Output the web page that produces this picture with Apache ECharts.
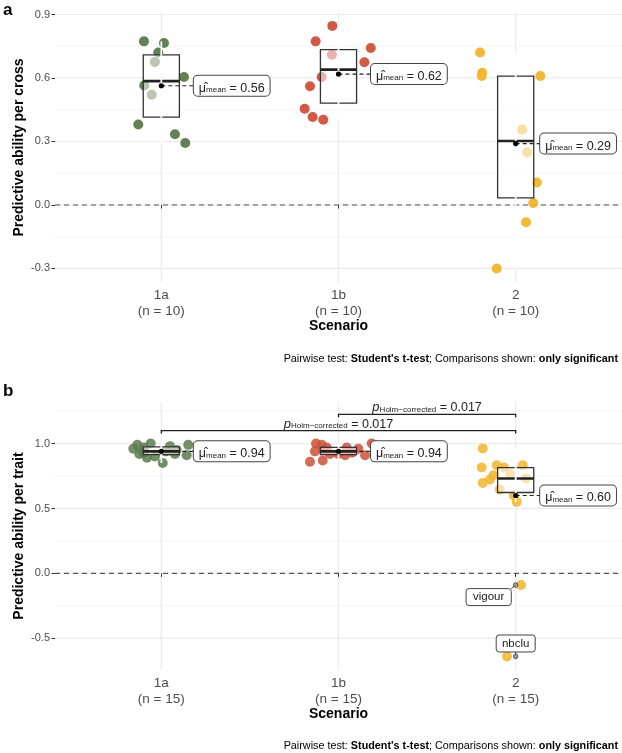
<!DOCTYPE html>
<html><head><meta charset="utf-8">
<script src="https://cdn.jsdelivr.net/npm/echarts@6/dist/echarts.min.js"></script>
<style>html,body{margin:0;padding:0;background:#fff}#c{width:622px;height:753px}</style>
</head><body><div id="c"></div>
<script>
// ---------------- DATA ----------------
const categories = ['1a', '1b', '2'];
const countsA = [10, 10, 10];
const countsB = [15, 15, 15];
const yTicksA = [-0.3, 0, 0.3, 0.6, 0.9];
const yMinorA = [-0.15, 0.15, 0.45, 0.75];
const yTicksB = [-0.5, 0, 0.5, 1.0];
const yMinorB = [-0.25, 0.25, 0.75, 1.25];
const xTicks = [1, 2, 3];

// Panel a: predictive ability per cross (value, jittered x position in category units)
const crossVals_1a = [0.773, 0.765, 0.720, 0.676, 0.605, 0.565, 0.521, 0.380, 0.334, 0.293];
const crossJit_1a  = [0.902, 1.015, 0.983, 0.964, 1.128, 0.904, 0.946, 0.870, 1.077, 1.135];
const crossVals_1b = [0.846, 0.773, 0.742, 0.710, 0.674, 0.605, 0.561, 0.455, 0.416, 0.403];
const crossJit_1b  = [1.965, 1.871, 2.182, 1.963, 2.146, 1.905, 1.839, 1.809, 1.854, 1.914];
const crossVals_2  = [0.720, 0.625, 0.609, 0.609, 0.356, 0.248, 0.106, 0.009, -0.082, -0.300];
const crossJit_2   = [2.799, 2.811, 2.808, 3.139, 3.037, 3.065, 3.120, 3.099, 3.058, 2.893];

// Panel b: predictive ability per trait
const traitVals_1a = [0.99, 1.00, 0.98, 0.99, 0.96, 0.95, 0.97, 0.93, 0.94, 0.92, 0.91, 0.92, 0.90, 0.89, 0.85];
const traitJit_1a  = [0.865, 0.940, 1.049, 1.152, 0.842, 1.087, 0.902, 0.898, 1.027, 0.876, 1.143, 1.077, 0.964, 0.919, 1.008];
const traitVals_1b = [1.00, 0.99, 0.97, 0.87, 0.86, 0.92, 0.97, 0.96, 0.91, 1.00, 0.95, 0.94, 0.93, 0.92, 0.91];
const traitJit_1b  = [1.873, 1.905, 1.933, 1.911, 1.839, 1.999, 2.046, 2.112, 2.150, 2.187, 1.914, 1.867, 2.076, 1.952, 2.037];
const traitVals_2  = [0.962, 0.815, 0.833, 0.815, 0.833, 0.756, 0.723, 0.697, 0.731, 0.551, -0.09, -0.64, 0.60, 0.646, 0.768];
const traitJit_2   = [2.814, 2.808, 2.893, 2.934, 3.040, 2.874, 2.855, 2.814, 3.058, 3.006, 3.030, 2.951, 2.990, 2.911, 2.968];
const outlierNames_2 = ['vigour', 'nbclu'];

// Significance comparisons (panel b)
const sigFrom = [2, 1];
const sigTo = [3, 3];
const sigLevel = [1.225, 1.10];
const sigP = ['0.017', '0.017'];

// ---------------- STYLE ----------------
const FONT = '"Liberation Sans", Arial, Helvetica, sans-serif';
const GRAY = '#4d4d4d';
const COLORS = ['#5c7a4c', '#cd513c', '#f1b52e'];
const BOX_HALF = 0.102;
const meanLabelGaps = [32, 32, 24];
const outlierLabelOffsets = [[-27, 12], [0, -13]];

function quantile(s, p) {
  const h = (s.length - 1) * p, lo = Math.floor(h);
  const hiV = s[Math.min(lo + 1, s.length - 1)];
  return s[lo] + (h - lo) * (hiV - s[lo]);
}
function stats(vals) {
  const s = vals.slice().sort((a, b) => a - b);
  const q1 = quantile(s, 0.25), med = quantile(s, 0.5), q3 = quantile(s, 0.75);
  const iqr = q3 - q1, lf = q1 - 1.5 * iqr, uf = q3 + 1.5 * iqr;
  const inside = s.filter(v => v >= lf && v <= uf);
  return {
    q1, med, q3, lo: inside[0], hi: inside[inside.length - 1],
    mean: vals.reduce((a, b) => a + b, 0) / vals.length,
    outliers: vals.filter(v => v < lf || v > uf)
  };
}

const panelA = [[crossVals_1a, crossJit_1a], [crossVals_1b, crossJit_1b], [crossVals_2, crossJit_2]];
const panelB = [[traitVals_1a, traitJit_1a], [traitVals_1b, traitJit_1b], [traitVals_2, traitJit_2]];

function gridSeries(idx, minor, major) {
  const data = [];
  minor.forEach(v => data.push([0, v]));
  major.forEach(v => data.push([1, v]));
  xTicks.forEach(c => data.push([2, c]));
  data.push([3, 0]);
  return {
    type: 'custom', xAxisIndex: idx, yAxisIndex: idx, z: 0, silent: true,
    encode: { x: -1, y: -1 },
    data,
    renderItem(params, api) {
      const cs = params.coordSys;
      const kind = api.value(0), v = api.value(1);
      if (kind === 2) {
        const x = api.coord([v, 0])[0];
        return { type: 'line', shape: { x1: x, y1: cs.y, x2: x, y2: cs.y + cs.height }, style: { stroke: '#ebebeb', lineWidth: 1.2 } };
      }
      const y = api.coord([1, v])[1];
      if (kind === 3) {
        return { type: 'line', z2: 5, shape: { x1: cs.x, y1: y, x2: cs.x + cs.width, y2: y }, style: { stroke: '#555', lineWidth: 1.1, lineDash: [5, 4] } };
      }
      return { type: 'line', shape: { x1: cs.x, y1: y, x2: cs.x + cs.width, y2: y },
        style: { stroke: kind === 1 ? '#ebebeb' : '#f4f4f4', lineWidth: kind === 1 ? 1.2 : 0.9 } };
    }
  };
}

function boxSeries(idx, groups) {
  return {
    type: 'custom', xAxisIndex: idx, yAxisIndex: idx, z: 3, silent: true,
    data: groups.map((g, i) => { const s = stats(g[0]); return [i + 1, s.q1, s.med, s.q3, s.lo, s.hi, s.mean, i]; }),
    renderItem(params, api) {
      const c = api.value(0);
      const P = k => api.coord([c, api.value(k)]);
      const pQ1 = P(1), pMed = P(2), pQ3 = P(3), pLo = P(4), pHi = P(5), pMean = P(6);
      const hw = api.size([BOX_HALF, 0])[0];
      const gap = meanLabelGaps[api.value(7)];
      return { type: 'group', children: [
        { type: 'rect', shape: { x: pQ1[0] - hw, y: pQ3[1], width: 2 * hw, height: pQ1[1] - pQ3[1] },
          style: { fill: 'rgba(255,255,255,0.55)', stroke: '#333', lineWidth: 1.3 } },
        { type: 'line', shape: { x1: pMed[0] - hw, y1: pMed[1], x2: pMed[0] + hw, y2: pMed[1] }, style: { stroke: '#222', lineWidth: 2.6 } },
        { type: 'line', shape: { x1: pHi[0], y1: pHi[1], x2: pLo[0], y2: pLo[1] }, style: { stroke: '#fff', lineWidth: 1.8 } },
        { type: 'line', shape: { x1: pMean[0], y1: pMean[1], x2: pMean[0] + gap, y2: pMean[1] }, style: { stroke: '#222', lineWidth: 1.2, lineDash: [4, 3] } },
        { type: 'circle', shape: { cx: pMean[0], cy: pMean[1], r: 2.6 }, style: { fill: '#000' } }
      ]};
    }
  };
}

const meanRich = {
  mu: { fontSize: 12.5, fontFamily: FONT, color: '#222', lineHeight: 12, verticalAlign: 'top' },
  sub: { fontSize: 8, fontFamily: FONT, color: '#222', lineHeight: 8, padding: [8, 0, 0, 0], verticalAlign: 'bottom' },
  t: { fontSize: 12.5, fontFamily: FONT, color: '#222', lineHeight: 12, verticalAlign: 'top' }
};
function meanLabelSeries(idx, groups) {
  return {
    type: 'scatter', xAxisIndex: idx, yAxisIndex: idx, z: 4, silent: true,
    symbolSize: 1, itemStyle: { color: 'rgba(0,0,0,0)' },
    data: groups.map((g, i) => ({ value: [i + 1, stats(g[0]).mean], label: { distance: meanLabelGaps[i] } })),
    label: {
      show: true, position: 'right', opacity: 1,
      formatter: p => '{mu|\u03BC\u0302}{sub|mean}{t| = ' + p.value[1].toFixed(2) + '}',
      backgroundColor: '#fff', borderColor: '#444', borderWidth: 1, borderRadius: 4,
      padding: [6, 5, 2, 5], rich: meanRich
    }
  };
}

function pointSeries(idx, groups, opacity) {
  return groups.map((g, i) => ({
    type: 'scatter', xAxisIndex: idx, yAxisIndex: idx, z: 2, silent: true,
    symbolSize: 10, itemStyle: { color: COLORS[i], opacity },
    data: g[1].map((x, k) => [x, g[0][k]])
  }));
}

function xAxisDef(idx, counts) {
  return {
    type: 'value', gridIndex: idx, min: 0.4, max: 3.6,
    axisLine: { show: false }, splitLine: { show: false },
    axisTick: { show: true, customValues: xTicks, length: 3.5, lineStyle: { color: '#333', width: 1 } },
    axisLabel: {
      customValues: xTicks, margin: 5,
      formatter: v => '{c|' + categories[v - 1] + '}\n{c|(n = ' + counts[v - 1] + ')}',
      rich: { c: { fontSize: 13.5, fontFamily: FONT, color: GRAY, lineHeight: 16 } }
    },
    name: 'Scenario', nameLocation: 'middle', nameGap: 37, nameMoveOverlap: false,
    nameTextStyle: { fontSize: 14, fontWeight: 'bold', color: '#000', fontFamily: FONT }
  };
}
function yAxisDef(idx, min, max, ticks, name) {
  return {
    type: 'value', gridIndex: idx, min, max,
    axisLine: { show: false }, splitLine: { show: false },
    axisTick: { show: true, customValues: ticks, length: 3.5, lineStyle: { color: '#333', width: 1 } },
    axisLabel: { customValues: ticks, margin: 5, color: GRAY, fontSize: 11, fontFamily: FONT, formatter: v => v.toFixed(1) },
    name, nameLocation: 'middle', nameGap: 29, nameRotate: 90, nameMoveOverlap: false,
    nameTextStyle: { fontSize: 14, fontWeight: 'bold', color: '#000', fontFamily: FONT }
  };
}

const sigSeries = {
  type: 'custom', xAxisIndex: 1, yAxisIndex: 1, z: 4, silent: true,
  data: sigFrom.map((f, i) => [f, sigTo[i], sigLevel[i], i]),
  renderItem(params, api) {
    const p1 = api.coord([api.value(0), api.value(2)]);
    const p2 = api.coord([api.value(1), api.value(2)]);
    const i = api.value(3);
    return { type: 'group', children: [
      { type: 'polyline', shape: { points: [[p1[0], p1[1] + 3], [p1[0], p1[1]], [p2[0], p2[1]], [p2[0], p2[1] + 3]] },
        style: { stroke: '#222', lineWidth: 1.3, fill: null } },
      { type: 'text', x: (p1[0] + p2[0]) / 2, y: p1[1] - 1,
        style: {
          text: '{p|p}{s|Holm\u2212corrected}{t| = ' + sigP[i] + '}',
          align: 'center', verticalAlign: 'bottom',
          rich: {
            p: { fontSize: 13, fontStyle: 'italic', fontFamily: FONT, fill: '#222', lineHeight: 12, verticalAlign: 'top' },
            s: { fontSize: 8, fontFamily: FONT, fill: '#222', lineHeight: 8, padding: [8, 0, 0, 0], verticalAlign: 'bottom' },
            t: { fontSize: 12.5, fontFamily: FONT, fill: '#222', lineHeight: 12, verticalAlign: 'top' }
          }
        } }
    ]};
  }
};

const outStats = stats(traitVals_2);
const outlierSeries = {
  type: 'custom', xAxisIndex: 1, yAxisIndex: 1, z: 5, silent: true,
  data: outStats.outliers.map((v, i) => [3, v, i]),
  renderItem(params, api) {
    const p = api.coord([api.value(0), api.value(1)]);
    const i = api.value(2);
    const off = outlierLabelOffsets[i];
    const name = outlierNames_2[i];
    const w = name.length * 6.2 + 8, h = 17;
    const cx = p[0] + off[0], cy = p[1] + off[1];
    const ex = Math.max(cx - w / 2, Math.min(cx + w / 2, p[0]));
    const ey = Math.max(cy - h / 2, Math.min(cy + h / 2, p[1]));
    return { type: 'group', children: [
      { type: 'line', shape: { x1: ex, y1: ey, x2: p[0], y2: p[1] }, style: { stroke: '#333', lineWidth: 1 } },
      { type: 'circle', shape: { cx: p[0], cy: p[1], r: 2.3 }, style: { fill: '#999', stroke: '#444', lineWidth: 0.8 } },
      { type: 'rect', shape: { x: cx - w / 2, y: cy - h / 2, width: w, height: h, r: 3 }, style: { fill: '#fff', stroke: '#444', lineWidth: 1 } },
      { type: 'text', x: cx, y: cy, style: { text: name, align: 'center', verticalAlign: 'middle', fontSize: 11.5, fontFamily: FONT, fill: '#222' } }
    ]};
  }
};

const captionRich = {
  n: { fontSize: 10.8, fontFamily: FONT, fill: '#000' },
  b: { fontSize: 10.8, fontFamily: FONT, fill: '#000', fontWeight: 'bold' }
};
const captionText = "{n|Pairwise test: }{b|Student's t-test}{n|; Comparisons shown: }{b|only significant}";

const option = {
  backgroundColor: '#fff',
  animation: false,
  grid: [
    { left: 55, right: 0, top: 13, height: 269, outerBoundsMode: 'none' },
    { left: 55, right: 0, top: 402, height: 268, outerBoundsMode: 'none' }
  ],
  xAxis: [xAxisDef(0, countsA), xAxisDef(1, countsB)],
  yAxis: [
    yAxisDef(0, -0.364, 0.907, yTicksA, 'Predictive ability per cross'),
    yAxisDef(1, -0.744, 1.32, yTicksB, 'Predictive ability per trait')
  ],
  graphic: [
    { type: 'text', left: 3, top: 2, style: { text: 'a', fontSize: 17, fontWeight: 'bold', fontFamily: FONT, fill: '#000' } },
    { type: 'text', left: 3, top: 383, style: { text: 'b', fontSize: 17, fontWeight: 'bold', fontFamily: FONT, fill: '#000' } },
    { type: 'text', right: 4, top: 354, style: { text: captionText, rich: captionRich } },
    { type: 'text', right: 4, top: 741, style: { text: captionText, rich: captionRich } }
  ],
  series: [
    gridSeries(0, yMinorA, yTicksA),
    ...pointSeries(0, panelA, 0.95),
    boxSeries(0, panelA),
    meanLabelSeries(0, panelA),
    gridSeries(1, yMinorB, yTicksB),
    ...pointSeries(1, panelB, 0.85),
    boxSeries(1, panelB),
    meanLabelSeries(1, panelB),
    sigSeries,
    outlierSeries
  ]
};
const chart = echarts.init(document.getElementById('c'), null, { renderer: 'canvas' });
chart.setOption(option);
</script>
</body></html>
